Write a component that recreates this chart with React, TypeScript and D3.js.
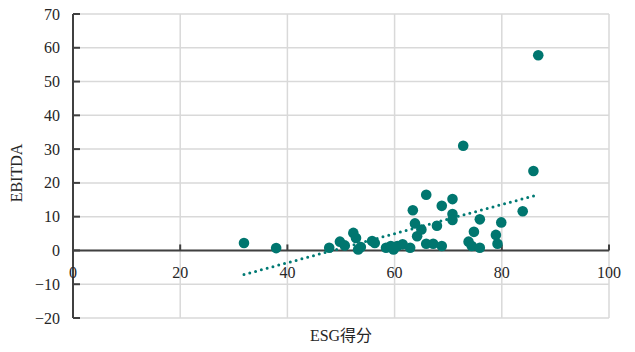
import React, { useEffect, useRef } from 'react';
import * as d3 from 'd3';

const esgScores = [
  31.9, 37.9, 47.8, 49.8, 50.7, 52.3, 52.8, 53.2, 53.7, 55.8, 56.3, 58.4, 59.3, 59.8,
  60.5, 61.5, 62.9, 63.4, 63.8, 64.2, 65.0, 65.9, 65.9, 67.2, 67.9, 68.8, 68.8, 70.8,
  70.8, 70.8, 72.8, 73.8, 74.4, 74.8, 75.9, 75.9, 78.9, 79.2, 79.9, 83.9, 85.9, 86.8,
];
const ebitda = [
  2.2, 0.7, 0.8, 2.6, 1.5, 5.2, 3.7, 0.3, 1.0, 2.8, 2.2, 0.8, 1.3, 0.3,
  1.3, 1.8, 0.8, 11.9, 8.0, 4.2, 6.2, 16.5, 2.0, 2.0, 7.3, 1.3, 13.2, 15.2,
  10.8, 9.0, 31.0, 2.6, 1.3, 5.5, 0.8, 9.2, 4.6, 2.0, 8.3, 11.6, 23.5, 57.8,
];
const xTicks = [0, 20, 40, 60, 80, 100];
const yTicks = [-20, -10, 0, 10, 20, 30, 40, 50, 60, 70];

const width = 635;
const height = 352;
const font = '"Liberation Serif", "DejaVu Serif", "Noto Sans CJK SC", serif';

export default function App() {
  const svgRef = useRef<SVGSVGElement>(null);

  useEffect(() => {
    const svgElement = svgRef.current;
    if (!svgElement) return;
    const svg = d3.select(svgElement);
    svg.selectAll('*').remove();

    const x = d3.scaleLinear().domain([0, 100]).range([73, 609]);
    const y = d3.scaleLinear().domain([-20, 70]).range([318, 14]);

    // gridlines
    const grid = svg.append('g');
    grid.selectAll('.hg')
      .data(yTicks)
      .enter()
      .append('line')
      .attr('x1', x(0))
      .attr('x2', x(100))
      .attr('y1', d => y(d))
      .attr('y2', d => y(d))
      .attr('stroke', '#d9d9d9')
      .attr('stroke-width', 1.5);
    grid.selectAll('.vg')
      .data(xTicks.filter(d => d > 0))
      .enter()
      .append('line')
      .attr('x1', d => x(d))
      .attr('x2', d => x(d))
      .attr('y1', y(70))
      .attr('y2', y(-20))
      .attr('stroke', '#d9d9d9')
      .attr('stroke-width', 1.5);

    // axes
    const axisColor = '#404040';
    svg.append('line')
      .attr('x1', x(0)).attr('x2', x(0))
      .attr('y1', y(70)).attr('y2', y(-20))
      .attr('stroke', axisColor).attr('stroke-width', 2);
    svg.append('line')
      .attr('x1', x(0)).attr('x2', x(100))
      .attr('y1', y(0)).attr('y2', y(0))
      .attr('stroke', axisColor).attr('stroke-width', 2);
    svg.selectAll('.yt')
      .data(yTicks)
      .enter()
      .append('line')
      .attr('x1', x(0)).attr('x2', x(0) + 7)
      .attr('y1', d => y(d)).attr('y2', d => y(d))
      .attr('stroke', axisColor).attr('stroke-width', 2);
    svg.selectAll('.xt')
      .data(xTicks)
      .enter()
      .append('line')
      .attr('x1', d => x(d)).attr('x2', d => x(d))
      .attr('y1', y(0)).attr('y2', y(0) - 6)
      .attr('stroke', axisColor).attr('stroke-width', 2);

    // tick labels
    svg.selectAll('.yl')
      .data(yTicks)
      .enter()
      .append('text')
      .attr('x', 60)
      .attr('y', d => y(d))
      .attr('dy', '0.35em')
      .attr('text-anchor', 'end')
      .style('font-family', font)
      .style('font-size', '16px')
      .style('fill', '#262626')
      .text(d => (d < 0 ? `\u2212${-d}` : `${d}`));
    svg.selectAll('.xl')
      .data(xTicks)
      .enter()
      .append('text')
      .attr('x', d => x(d))
      .attr('y', 278)
      .attr('text-anchor', 'middle')
      .style('font-family', font)
      .style('font-size', '16px')
      .style('fill', '#262626')
      .text(d => `${d}`);

    // trendline (least squares)
    const n = esgScores.length;
    const mx = d3.mean(esgScores) as number;
    const my = d3.mean(ebitda) as number;
    let sxy = 0;
    let sxx = 0;
    esgScores.forEach((v, i) => {
      sxy += (v - mx) * (ebitda[i] - my);
      sxx += (v - mx) * (v - mx);
    });
    const slope = sxy / sxx;
    const intercept = my - slope * mx;
    const [x0, x1] = d3.extent(esgScores) as [number, number];
    svg.append('line')
      .attr('x1', x(x0)).attr('y1', y(intercept + slope * x0))
      .attr('x2', x(x1)).attr('y2', y(intercept + slope * x1))
      .attr('stroke', '#007a74')
      .attr('stroke-width', 3)
      .attr('stroke-linecap', 'round')
      .attr('stroke-dasharray', '0,6');

    // points
    svg.selectAll('.pt')
      .data(esgScores.map((v, i) => [v, ebitda[i]] as [number, number]))
      .enter()
      .append('circle')
      .attr('cx', d => x(d[0]))
      .attr('cy', d => y(d[1]))
      .attr('r', 5.3)
      .attr('fill', '#00766f');

    // axis titles
    svg.append('text')
      .attr('transform', `translate(22, 173) rotate(-90)`)
      .attr('text-anchor', 'middle')
      .style('font-family', font)
      .style('font-size', '16px')
      .style('fill', '#262626')
      .text('EBITDA');
    svg.append('text')
      .attr('x', 341)
      .attr('y', 341)
      .attr('text-anchor', 'middle')
      .style('font-family', font)
      .style('font-size', '16px')
      .style('fill', '#262626')
      .text('ESG得分');
    void n;
  }, []);

  return (
    <svg
      ref={svgRef}
      width={width}
      height={height}
      style={{ position: 'absolute', left: 0, top: 0, background: '#fff' }}
    />
  );
}
